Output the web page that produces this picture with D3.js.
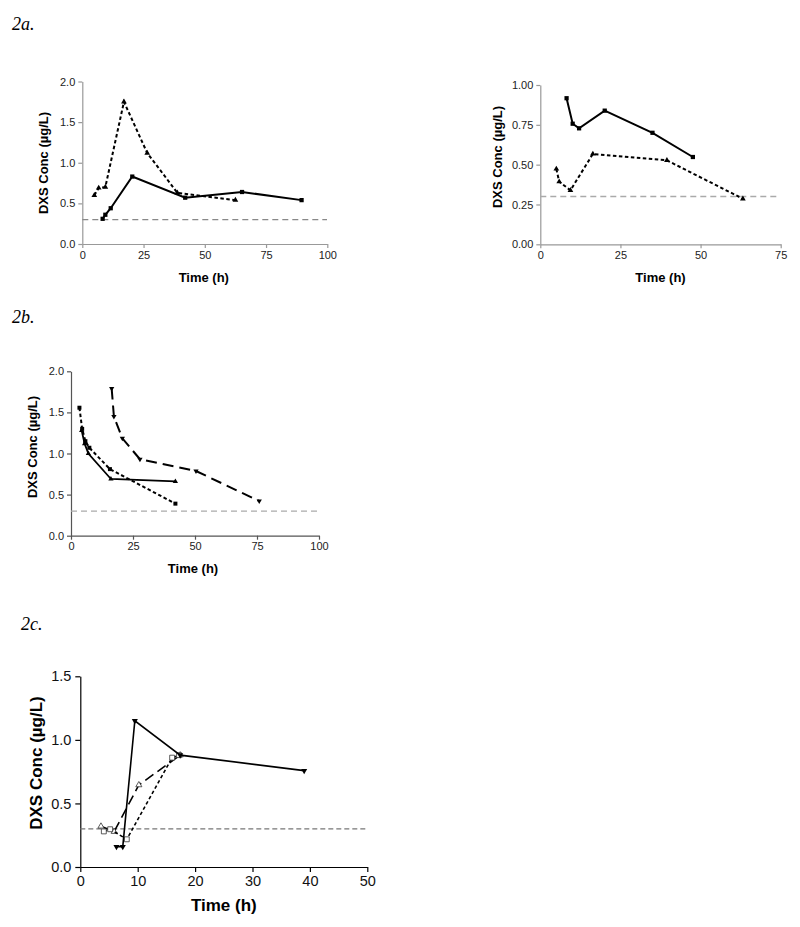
<!DOCTYPE html>
<html><head><meta charset="utf-8">
<script src="https://cdn.jsdelivr.net/npm/d3@7"></script>
<style>body{margin:0;background:#fff}</style>
</head><body>
<svg id="c" width="800" height="927"></svg>
<script>
// ---- Data ----
// Panel 2a (left)
const a1SolidT = [8.3, 9.4, 11.6, 20.4, 42, 65.2, 89.5];
const a1SolidV = [0.31, 0.36, 0.44, 0.83, 0.57, 0.64, 0.54];
const a1DotT = [4.9, 6.7, 9.4, 17, 26.5, 38.8, 62.5];
const a1DotV = [0.60, 0.69, 0.70, 1.75, 1.12, 0.63, 0.54];
// Panel 2a (right)
const a2SolidT = [8.2, 10.1, 12.1, 20.1, 35, 47.6];
const a2SolidV = [0.917, 0.757, 0.728, 0.839, 0.70, 0.548];
const a2DotT = [5.0, 5.9, 9.4, 16.4, 39.5, 63.2];
const a2DotV = [0.473, 0.393, 0.339, 0.567, 0.527, 0.286];
// Panel 2b
const bSolidT = [4.3, 5.5, 7.0, 16.1, 42.1];
const bSolidV = [1.28, 1.12, 1.0, 0.69, 0.66];
const bDotT = [3.4, 4.5, 5.8, 7.4, 15.7, 42.1];
const bDotV = [1.557, 1.30, 1.15, 1.07, 0.81, 0.39];
const bDashT = [16.4, 17.3, 20.7, 27.8, 50.4, 75.9];
const bDashV = [1.79, 1.45, 1.185, 0.93, 0.787, 0.422];
// Panel 2c
const cSolidT = [6.3, 7.4, 9.5, 17.4, 39];
const cSolidV = [0.16, 0.16, 1.15, 0.88, 0.758];
const cDotT = [4.1, 5.2, 8.1, 16.0, 17.2];
const cDotV = [0.28, 0.297, 0.218, 0.86, 0.88];
const cDashT = [3.6, 5.9, 10.2, 17.4];
const cDashV = [0.32, 0.278, 0.645, 0.88];
// Axes ticks & reference
const lloq = 0.3;
const ticksA1X = [0, 25, 50, 75, 100], ticksA1Y = [0, 0.5, 1.0, 1.5, 2.0];
const ticksA2X = [0, 25, 50, 75], ticksA2Y = [0, 0.25, 0.5, 0.75, 1.0];
const ticksBX = [0, 25, 50, 75, 100], ticksBY = [0, 0.5, 1.0, 1.5, 2.0];
const ticksCX = [0, 10, 20, 30, 40, 50], ticksCY = [0, 0.5, 1.0, 1.5];
const titles = ["2a.", "2b.", "2c."];
const yLabel = "DXS Conc (\u00b5g/L)";
const xLabel = "Time (h)";

const zip = (t, v) => t.map((d, i) => [d, v[i]]);
const svg = d3.select("#c");
const SANS = "Liberation Sans, Arial, sans-serif";

function panel(o) {
  const x = d3.scaleLinear().domain(o.xd).range([o.x0, o.x1]);
  const y = d3.scaleLinear().domain(o.yd).range([o.y0, o.y1]);
  const g = svg.append("g");
  // axes
  const ax = g.append("g").attr("transform", `translate(0,${o.y0})`)
    .call(d3.axisBottom(x).tickValues(o.tx).tickSize(o.tick).tickSizeOuter(0).tickPadding(o.pad).tickFormat(o.fx || d3.format("d")));
  const ay = g.append("g").attr("transform", `translate(${o.x0},0)`)
    .call(d3.axisLeft(y).tickValues(o.ty).tickSize(o.tick).tickSizeOuter(0).tickPadding(o.pad).tickFormat(o.fy));
  [ax, ay].forEach(a => {
    a.select(".domain").attr("stroke", o.axisCol).attr("stroke-width", o.axisW);
    a.selectAll(".tick line").attr("stroke", o.axisCol).attr("stroke-width", o.axisW);
    a.selectAll(".tick text").attr("fill", o.textCol).attr("font-family", SANS).attr("font-size", o.fs);
  });
  // LLOQ
  g.append("line").attr("x1", o.x0).attr("x2", o.refEnd).attr("y1", y(lloq)).attr("y2", y(lloq))
    .attr("stroke", o.refCol).attr("stroke-width", 1.3).attr("stroke-dasharray", o.refDash);
  // series
  const line = d3.line().x(d => x(d[0])).y(d => y(d[1]));
  o.series.forEach(s => {
    g.append("path").datum(s.data).attr("d", line).attr("fill", "none")
      .attr("stroke", "#000").attr("stroke-width", s.w).attr("stroke-dasharray", s.dash || null);
    const sym = d3.symbol().type(s.sym).size(s.size);
    g.selectAll(null).data(s.data).enter().append("path")
      .attr("d", sym)
      .attr("transform", d => `translate(${x(d[0])},${y(d[1])})${s.rot ? " rotate(180)" : ""}`)
      .attr("fill", s.open ? "#fff" : "#000").attr("stroke", s.open ? "#333" : "none").attr("stroke-width", 0.8);
  });
  // labels
  g.append("text").attr("x", (o.x0 + o.x1) / 2 + (o.xlShift || 0)).attr("y", o.xlY).attr("text-anchor", "middle")
    .attr("font-family", SANS).attr("font-weight", "bold").attr("font-size", o.lfs).attr("fill", "#000").text(xLabel);
  g.append("text").attr("transform", `translate(${o.ylX},${o.ylY}) rotate(-90)`).attr("text-anchor", "middle")
    .attr("font-family", SANS).attr("font-weight", "bold").attr("font-size", o.lfs).attr("fill", "#000").text(yLabel);
}

const f1 = d3.format(".1f"), f2 = d3.format(".2f");

panel({ xd: [0, 100], yd: [0, 2], x0: 82.3, x1: 327.3, y0: 244, y1: 81.5, tx: ticksA1X, ty: ticksA1Y, fy: f1,
  tick: 4, pad: 3, axisCol: "#999", axisW: 1.2, textCol: "#222", fs: 11, lfs: 13,
  refEnd: 327, refCol: "#888", refDash: "6,4", xlY: 282, xlShift: -1, ylX: 48, ylY: 163,
  series: [
    { data: zip(a1DotT, a1DotV), w: 2, dash: "3.5,2.5", sym: d3.symbolTriangle, size: 14 },
    { data: zip(a1SolidT, a1SolidV), w: 2, sym: d3.symbolSquare, size: 18 }
  ] });

panel({ xd: [0, 75], yd: [0, 1], x0: 540.3, x1: 780.7, y0: 244.3, y1: 85, tx: ticksA2X, ty: ticksA2Y, fy: f2,
  tick: 4, pad: 3, axisCol: "#999", axisW: 1.2, textCol: "#222", fs: 11, lfs: 13,
  refEnd: 780, refCol: "#aaa", refDash: "6,4", xlY: 282, xlShift: 0, ylX: 502, ylY: 157,
  series: [
    { data: zip(a2DotT, a2DotV), w: 2, dash: "3.5,2.5", sym: d3.symbolTriangle, size: 14 },
    { data: zip(a2SolidT, a2SolidV), w: 2, sym: d3.symbolSquare, size: 18 }
  ] });

panel({ xd: [0, 100], yd: [0, 2], x0: 71, x1: 319, y0: 535.7, y1: 371.3, tx: ticksBX, ty: ticksBY, fy: f1,
  tick: 4, pad: 3, axisCol: "#555", axisW: 1.2, textCol: "#222", fs: 11, lfs: 13,
  refEnd: 318, refCol: "#aaa", refDash: "6,4", xlY: 573, xlShift: -2, ylX: 37, ylY: 447,
  series: [
    { data: zip(bDashT, bDashV), w: 2, dash: "11,6", sym: d3.symbolTriangle, size: 12, rot: true },
    { data: zip(bDotT, bDotV), w: 2, dash: "3.5,2.5", sym: d3.symbolSquare, size: 16 },
    { data: zip(bSolidT, bSolidV), w: 1.8, sym: d3.symbolTriangle, size: 12 }
  ] });

panel({ xd: [0, 50], yd: [0, 1.5], x0: 80.3, x1: 367.3, y0: 867, y1: 676.3, tx: ticksCX, ty: ticksCY, fy: f1,
  tick: 5, pad: 4, axisCol: "#000", axisW: 1.2, textCol: "#111", fs: 14.5, lfs: 17,
  refEnd: 367, refCol: "#777", refDash: "5,3", xlY: 911, xlShift: 0, ylX: 42, ylY: 763,
  series: [
    { data: zip(cDashT, cDashV), w: 1.6, dash: "10,5", sym: d3.symbolTriangle, size: 16, open: true },
    { data: zip(cDotT, cDotV), w: 1.6, dash: "3.5,2.5", sym: d3.symbolSquare, size: 24, open: true },
    { data: zip(cSolidT, cSolidV), w: 1.6, sym: d3.symbolTriangle, size: 16, rot: true }
  ] });

// panel titles
const tpos = [[12, 30], [12, 323], [21, 630]];
titles.forEach((t, i) => {
  svg.append("text").attr("x", tpos[i][0]).attr("y", tpos[i][1])
    .attr("font-family", "Liberation Serif, Times New Roman, serif").attr("font-style", "italic")
    .attr("font-size", 18).attr("fill", "#000").text(t);
});
</script>
</body></html>
